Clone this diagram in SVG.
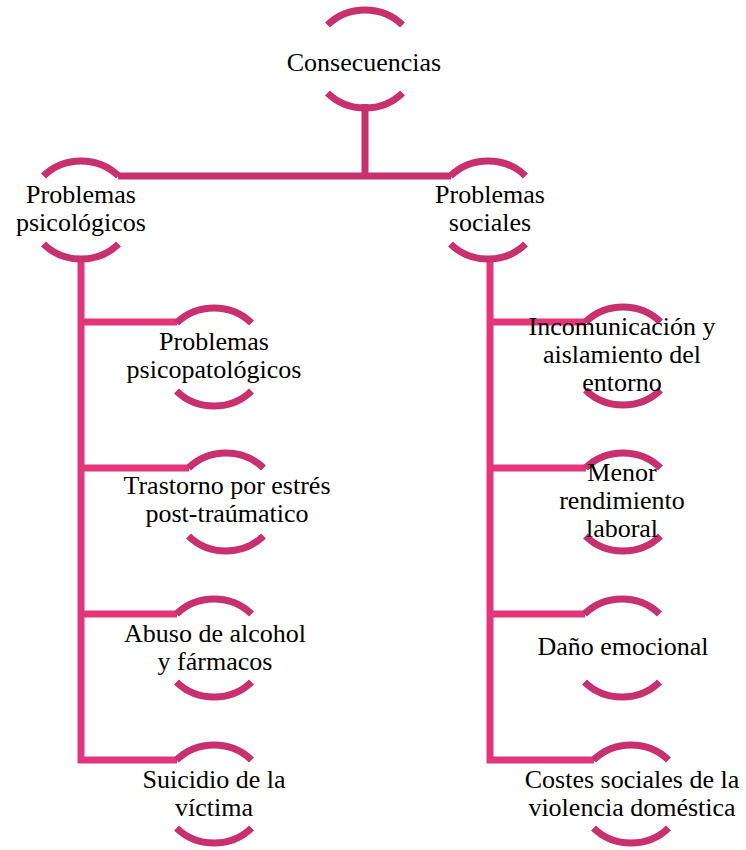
<svg xmlns="http://www.w3.org/2000/svg" xmlns:xlink="http://www.w3.org/1999/xlink" width="746" height="850" viewBox="0 0 746 850">
<style>
.arc{fill:none;stroke:#C8306E;stroke-width:7}
.c1{fill:none;stroke:#C8306E;stroke-width:7}
.c2{fill:none;stroke:#E3357B;stroke-width:7}
text{font-family:"Liberation Serif","Times New Roman",serif;font-size:26px;fill:#000;text-anchor:middle}
</style>
<defs>
<path id="arcs" class="arc" d="M-37.5,-34 A52 49 0 0 1 37.5,-34 M-37.5,34 A52 49 0 0 0 37.5,34"/>
</defs>
<rect width="746" height="850" fill="#fff"/>
<g id="connectors">
<path class="c1" d="M365,104 V176 M118,176 H451"/>
<path class="c2" d="M81,258 V760 H177 M81,322 H177 M81,468 H189 M81,614 H177"/>
<path class="c2" d="M490,258 V760 H594 M490,322 H586 M490,468 H586 M490,614 H585"/>
</g>
<g id="n-consecuencias"><use xlink:href="#arcs" x="365" y="59"/><text x="364" y="71">Consecuencias</text></g>
<g id="n-psicologicos"><use xlink:href="#arcs" x="81" y="210"/><text x="81" y="203">Problemas</text><text x="81" y="231">psicológicos</text></g>
<g id="n-sociales"><use xlink:href="#arcs" x="488" y="210"/><text x="490" y="203">Problemas</text><text x="490" y="231">sociales</text></g>
<g id="n-psicopatologicos"><use xlink:href="#arcs" x="214" y="357"/><text x="214" y="350">Problemas</text><text x="214" y="378">psicopatológicos</text></g>
<g id="n-trastorno"><use xlink:href="#arcs" x="226" y="502"/><text x="227" y="494">Trastorno por estrés</text><text x="227" y="522">post-traúmatico</text></g>
<g id="n-abuso"><use xlink:href="#arcs" x="214" y="648"/><text x="215" y="642">Abuso de alcohol</text><text x="215" y="670">y fármacos</text></g>
<g id="n-suicidio"><use xlink:href="#arcs" x="214" y="794"/><text x="214" y="788">Suicidio de la</text><text x="214" y="816">víctima</text></g>
<g id="n-incomunicacion"><use xlink:href="#arcs" x="623" y="356"/><text x="622" y="335">Incomunicación y</text><text x="622" y="363">aislamiento del</text><text x="622" y="391">entorno</text></g>
<g id="n-menor"><use xlink:href="#arcs" x="623" y="502"/><text x="622" y="481">Menor</text><text x="622" y="509">rendimiento</text><text x="622" y="537">laboral</text></g>
<g id="n-dano"><use xlink:href="#arcs" x="622" y="648"/><text x="623" y="655">Daño emocional</text></g>
<g id="n-costes"><use xlink:href="#arcs" x="631" y="794"/><text x="632" y="788">Costes sociales de la</text><text x="632" y="816">violencia doméstica</text></g>
</svg>
